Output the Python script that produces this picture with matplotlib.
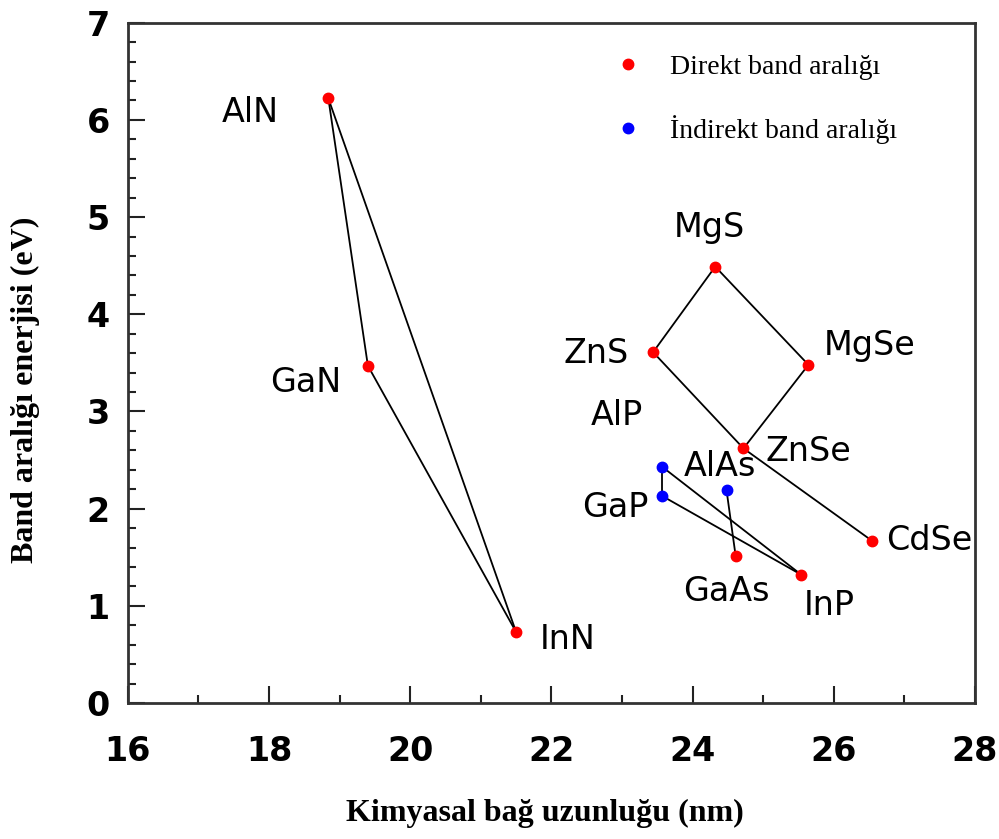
import matplotlib
matplotlib.use("Agg")
import matplotlib.pyplot as plt
from matplotlib.ticker import MultipleLocator
from matplotlib.lines import Line2D

# bond length (x) and band gap (eV)
names = ["AlN", "GaN", "InN", "MgS", "ZnS", "MgSe", "ZnSe", "CdSe",
         "AlP", "GaP", "AlAs", "GaAs", "InP"]
bond_len = [18.84, 19.40, 21.50, 24.32, 23.44, 25.64, 24.72, 26.54,
            23.57, 23.57, 24.48, 24.61, 25.54]
band_gap = [6.22, 3.47, 0.73, 4.49, 3.61, 3.48, 2.62, 1.67,
            2.43, 2.13, 2.19, 1.51, 1.32]
direct = [True, True, True, True, True, True, True, True,
          False, False, False, True, True]

# pairs of compounds joined by a line
links = [("AlN", "GaN"), ("GaN", "InN"), ("AlN", "InN"),
         ("MgS", "ZnS"), ("MgS", "MgSe"), ("MgSe", "ZnSe"),
         ("ZnS", "ZnSe"), ("ZnSe", "CdSe"),
         ("AlP", "GaP"), ("AlP", "InP"), ("GaP", "InP"), ("AlAs", "GaAs")]

legend_labels = ["Direkt band aralığı", "İndirekt band aralığı"]

# label offsets (points) relative to each marker
label_off = {
    "AlN": (-56, -10), "GaN": (-45, -12), "InN": (37, -5),
    "MgS": (-4, 28), "ZnS": (-41, -1), "MgSe": (44, 14),
    "ZnSe": (47, -2), "CdSe": (41, 0), "AlP": (-33, 37),
    "GaP": (-34, -8), "AlAs": (-5, 17), "GaAs": (-7, -25),
    "InP": (20, -22),
}

fig = plt.figure(figsize=(9.99, 8.39), dpi=100)
ax = fig.add_axes([0.128, 0.162, 0.848, 0.811])

idx = {n: i for i, n in enumerate(names)}
for a, b in links:
    ax.plot([bond_len[idx[a]], bond_len[idx[b]]],
            [band_gap[idx[a]], band_gap[idx[b]]],
            color="black", lw=1.3, zorder=2)

for i, n in enumerate(names):
    c = "#ff0000" if direct[i] else "#0000ff"
    ax.plot(bond_len[i], band_gap[i], "o", color=c, ms=7.5, zorder=3)
    ax.annotate(n, (bond_len[i], band_gap[i]), xytext=label_off[n],
                textcoords="offset points", ha="center", va="center",
                fontsize=24, family="DejaVu Sans", color="black")

ax.set_xlim(16, 28)
ax.set_ylim(0, 7)
ax.xaxis.set_major_locator(MultipleLocator(2))
ax.xaxis.set_minor_locator(MultipleLocator(1))
ax.yaxis.set_major_locator(MultipleLocator(1))
ax.yaxis.set_minor_locator(MultipleLocator(0.2))
ax.tick_params(which="both", direction="in", top=False, right=False,
               color="#222222")
ax.tick_params(which="major", length=12, width=1.5, labelsize=24)
ax.tick_params(which="minor", length=6, width=1.5)
ax.tick_params(axis="x", which="major", pad=23)
ax.tick_params(axis="y", which="major", pad=13)
for lab in ax.get_xticklabels() + ax.get_yticklabels():
    lab.set_fontweight("bold")
for sp in ax.spines.values():
    sp.set_linewidth(2)
    sp.set_color("#333333")

handles = [Line2D([], [], ls="none", marker="o", color="#ff0000", ms=7.5),
           Line2D([], [], ls="none", marker="o", color="#0000ff", ms=7.5)]
ax.legend(handles, legend_labels, loc="upper left",
          bbox_to_anchor=(0.545, 0.99), frameon=False,
          prop={"family": "Liberation Serif", "size": 20},
          handlelength=1, handletextpad=1.0, labelspacing=1.25)

fig.text(0.545, 0.031, "Kimyasal bağ uzunluğu (nm)", ha="center",
         va="center", family="Liberation Serif", weight="bold", fontsize=23)
fig.text(0.025, 0.535, "Band aralığı enerjisi (eV)", ha="center",
         va="center", rotation=90, family="Liberation Serif",
         weight="bold", fontsize=23)

fig.savefig("out.png", dpi=100)
